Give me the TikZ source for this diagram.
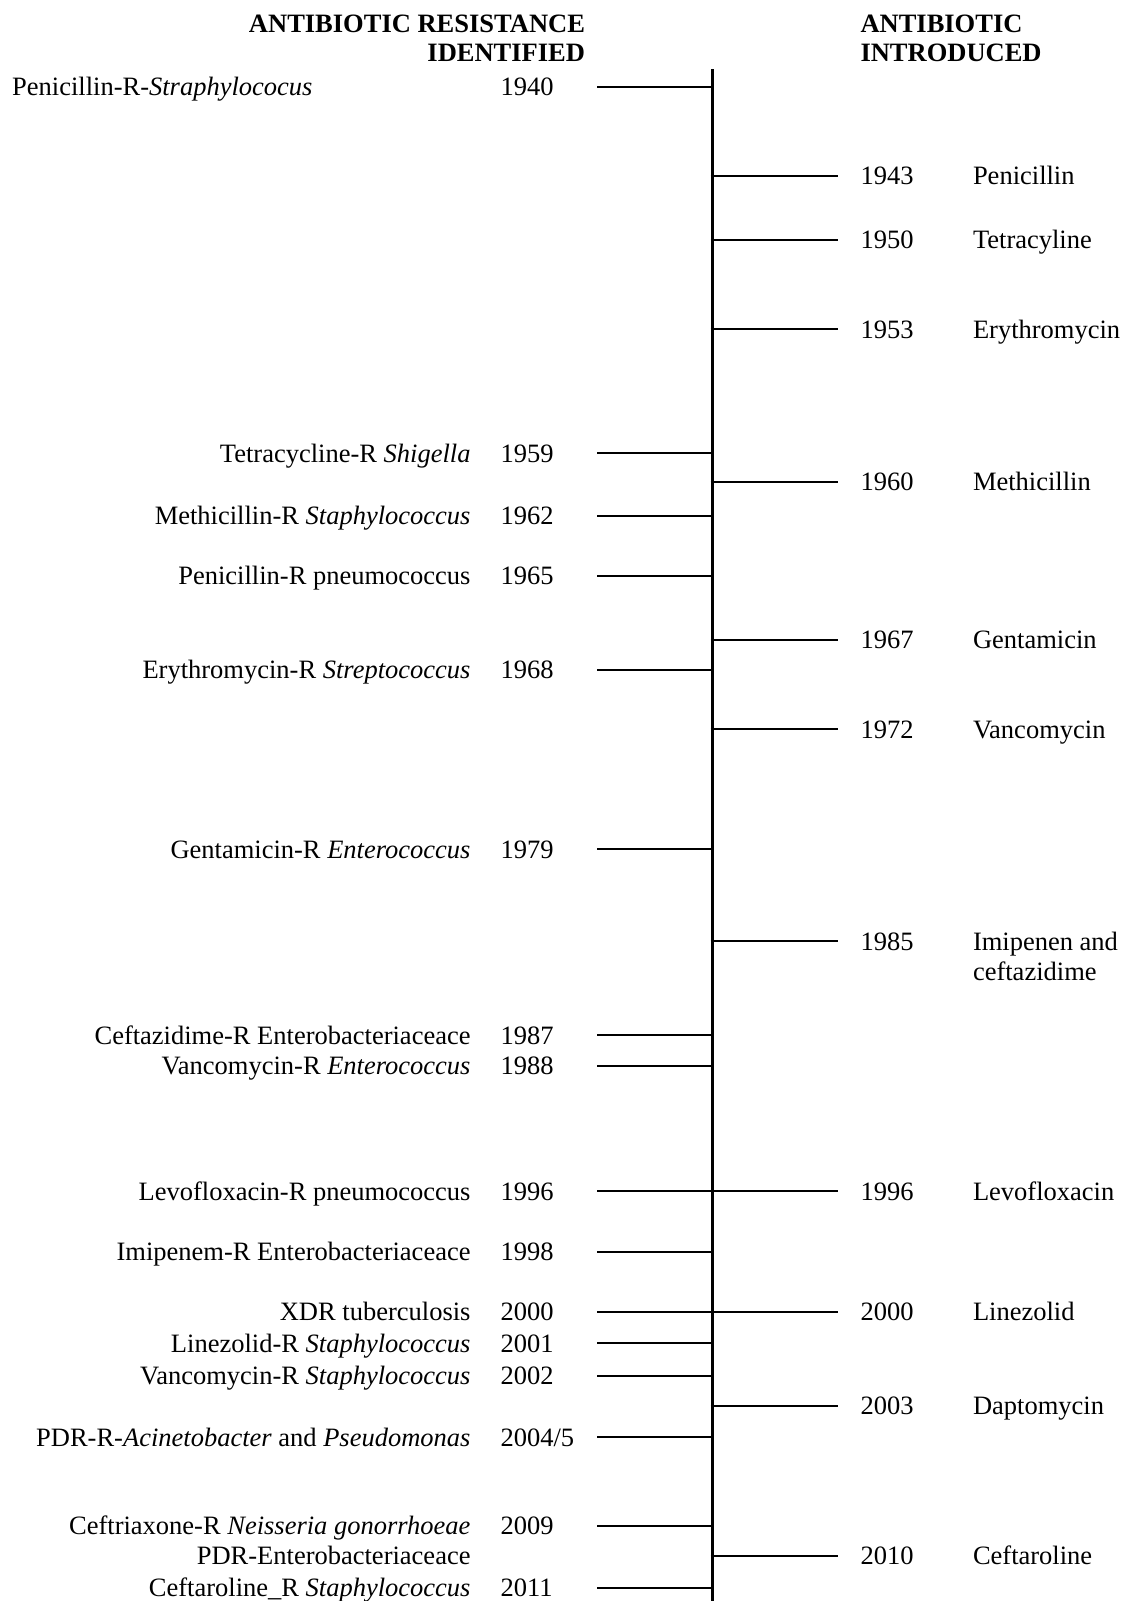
\documentclass[tikz,border=0pt]{standalone}
\usepackage{fontspec}
\setmainfont{Liberation Serif}
\newcommand\resistev[4]{%
  \coordinate (rs#2) at (597.3,#1);
  \coordinate (ra#2) at (712.7,#1);
  \draw[ticker] (rs#2) -- (ra#2);
  \node[lab, anchor=base east] (rl#2) at (470.5,{#1+9}) {#3};
  \node[lab, anchor=base west] (ry#2) at (500.5,{#1+9}) {#4};
}
\newcommand\introev[4]{%
  \coordinate (ia#2) at (710.7,#1);
  \coordinate (ie#2) at (837.5,#1);
  \draw[ticker] (ia#2) -- (ie#2);
  \node[lab, anchor=base west] (iy#2) at (860.5,{#1+9}) {#3};
  \node[lab, anchor=base west] (in#2) at (973,{#1+9}) {#4};
}
\begin{document}
\begin{tikzpicture}[x=1pt,y=-1pt,
  lab/.style={inner sep=0pt, outer sep=0pt, font=\fontsize{26.5}{30.5}\selectfont},
  head/.style={inner sep=0pt, outer sep=0pt, font=\fontsize{26.5}{30.5}\selectfont\bfseries},
  ticker/.style={line width=1.8pt, line cap=butt},
  axisline/.style={line width=2.5pt}]
\useasboundingbox (0,0) rectangle (1134,1601);
% headers
\node[head, anchor=base east] (h1) at (585,32) {ANTIBIOTIC RESISTANCE};
\node[head, anchor=base east] (h2) at (585,61.5) {IDENTIFIED};
\node[head, anchor=base west] (h3) at (860.5,32) {ANTIBIOTIC};
\node[head, anchor=base west] (h4) at (860.5,61.5) {INTRODUCED};
% axis
\coordinate (atop) at (712.7,69);
\coordinate (abot) at (712.7,1601);
\draw[axisline] (atop) -- (abot);
% resistance identified (left)
\coordinate (rsA) at (597.3,87.3);
\coordinate (raA) at (712.7,87.3);
\draw[ticker] (rsA) -- (raA);
\node[lab, anchor=base west] (rlA) at (12.2,95.3) {Penicillin-R-\textit{Straphylococus}};
\node[lab, anchor=base west] (ryA) at (500.5,95.3) {1940};
\resistev{453.3}{B}{Tetracycline-R \textit{Shigella}}{1959}
\resistev{515.7}{C}{Methicillin-R \textit{Staphylococcus}}{1962}
\resistev{575.7}{D}{Penicillin-R pneumococcus}{1965}
\resistev{669.7}{E}{Erythromycin-R \textit{Streptococcus}}{1968}
\resistev{849.3}{F}{Gentamicin-R \textit{Enterococcus}}{1979}
\resistev{1035.3}{G}{Ceftazidime-R Enterobacteriaceace}{1987}
\resistev{1065.7}{H}{Vancomycin-R \textit{Enterococcus}}{1988}
\resistev{1191.3}{I}{Levofloxacin-R pneumococcus}{1996}
\resistev{1251.7}{J}{Imipenem-R Enterobacteriaceace}{1998}
\resistev{1311.7}{K}{XDR tuberculosis}{2000}
\resistev{1343.3}{L}{Linezolid-R \textit{Staphylococcus}}{2001}
\resistev{1375.7}{M}{Vancomycin-R \textit{Staphylococcus}}{2002}
\resistev{1437.3}{N}{PDR-R-\textit{Acinetobacter} and \textit{Pseudomonas}}{2004/5}
\resistev{1525.7}{O}{Ceftriaxone-R \textit{Neisseria gonorrhoeae}}{2009}
\node[lab, anchor=base east] (rlP) at (470.5,1564.7) {PDR-Enterobacteriaceace};
\resistev{1587.7}{Q}{Ceftaroline\_R \textit{Staphylococcus}}{2011}
% antibiotic introduced (right)
\introev{175.7}{a}{1943}{Penicillin}
\introev{239.7}{b}{1950}{Tetracyline}
\introev{329.3}{c}{1953}{Erythromycin}
\introev{481.7}{d}{1960}{Methicillin}
\introev{639.7}{e}{1967}{Gentamicin}
\introev{729.3}{f}{1972}{Vancomycin}
\introev{941.3}{g}{1985}{Imipenen and}
\node[lab, anchor=base west] (ing2) at (973,980.8) {ceftazidime};
\introev{1191.3}{h}{1996}{Levofloxacin}
\introev{1311.7}{i}{2000}{Linezolid}
\introev{1405.7}{j}{2003}{Daptomycin}
\introev{1555.7}{k}{2010}{Ceftaroline}
\end{tikzpicture}
\end{document}
